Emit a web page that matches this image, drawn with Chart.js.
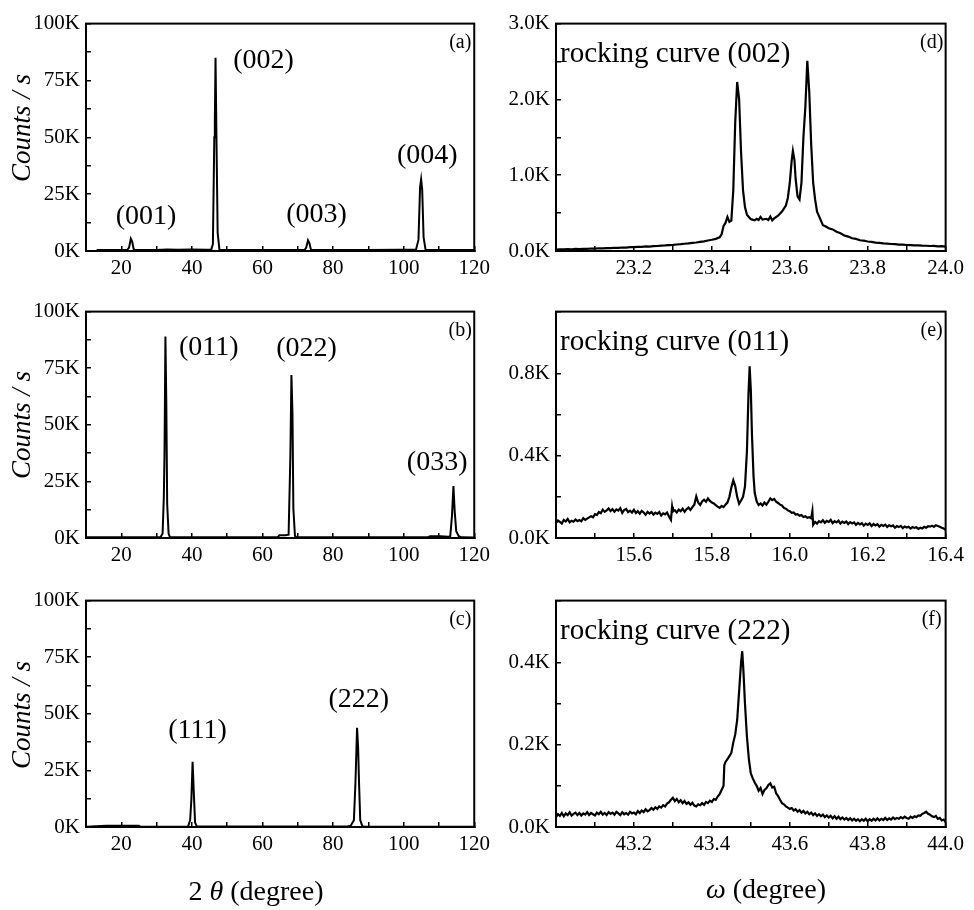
<!DOCTYPE html>
<html>
<head>
<meta charset="utf-8">
<script src="https://cdn.jsdelivr.net/npm/chart.js@4.4.1/dist/chart.umd.min.js"></script>
<style>
  html, body { margin: 0; padding: 0; background: #fff; }
  #fig { position: relative; width: 974px; height: 910px; background: #fff; overflow: hidden; }
  #fig canvas { position: absolute; }
</style>
</head>
<body>
<div id="fig">
  <canvas id="pa" width="500" height="291" style="left:0px;top:0px"></canvas>
  <canvas id="pb" width="500" height="290" style="left:0px;top:288px"></canvas>
  <canvas id="pc" width="500" height="333" style="left:0px;top:577px"></canvas>
  <canvas id="pd" width="484" height="291" style="left:490px;top:0px"></canvas>
  <canvas id="pe" width="484" height="290" style="left:490px;top:288px"></canvas>
  <canvas id="pf" width="484" height="333" style="left:490px;top:577px"></canvas>
</div>
<script>
// ---- 2θ scans, counts in K (thousands of counts / s) ----
const scanA = [[13,0.4],[20,0.4],[21.7,0.5],[22.2,1.5],[22.7,5.4],[23.1,4.0],[23.5,0.8],[23.9,0.4],[30,0.4],[33,0.7],[36,0.5],[40,0.7],[44,0.6],[45.5,0.7],[45.95,3],[46.35,50],[46.5,57],[46.7,85],[47.0,45],[47.3,8],[47.8,0.6],[50,0.4],[60,0.4],[71.9,0.4],[72.4,1.5],[72.9,4.7],[73.3,3.5],[73.7,0.7],[74.1,0.4],[90,0.4],[99,0.5],[103.5,0.6],[104.2,5],[104.65,28],[104.95,31.5],[105.25,27],[105.65,6],[106.2,0.6],[110,0.4],[120,0.4]];
const scanB = [[10,0.3],[31.1,0.3],[31.7,2],[32.05,18],[32.25,38],[32.5,89],[32.75,60],[33.0,15],[33.4,2],[33.8,0.3],[64.3,0.3],[64.8,1.2],[66.5,1.2],[67.4,1.5],[67.9,36],[68.2,72],[68.5,55],[68.75,13],[69.2,1],[69.6,0.3],[106.8,0.3],[107.5,0.8],[110.5,0.8],[112.5,0.5],[113.2,0.8],[113.7,10],[114.1,23],[114.45,12],[114.9,3],[115.6,0.8],[116.5,0.3],[120,0.2]];
const scanC = [[10,0.1],[15.7,0.5],[25,0.5],[25.5,0.1],[38.9,0.2],[39.5,3],[39.85,12],[40.2,28.8],[40.55,15],[40.9,2],[41.4,0.2],[84,0.2],[85,0.6],[85.9,3],[86.35,20],[86.8,43.8],[87.1,35],[87.35,20],[87.7,3],[88.3,0.4],[89,0.1],[120,0.1]];

// ---- ω rocking curves, counts in K ----
const rockD = [[23.00,0.020],[23.01,0.022],[23.02,0.021],[23.03,0.025],[23.04,0.023],[23.05,0.027],[23.06,0.026],[23.07,0.030],[23.08,0.029],[23.09,0.033],[23.10,0.032],[23.11,0.036],[23.12,0.034],[23.13,0.039],[23.14,0.038],[23.15,0.043],[23.16,0.042],[23.17,0.046],[23.18,0.045],[23.19,0.050],[23.20,0.051],[23.21,0.055],[23.22,0.054],[23.23,0.060],[23.24,0.059],[23.25,0.065],[23.26,0.066],[23.27,0.071],[23.28,0.073],[23.29,0.078],[23.30,0.080],[23.31,0.086],[23.32,0.090],[23.33,0.096],[23.34,0.100],[23.35,0.107],[23.36,0.112],[23.37,0.120],[23.38,0.128],[23.39,0.138],[23.40,0.148],[23.41,0.160],[23.42,0.180],[23.425,0.220],[23.43,0.330],[23.435,0.370],[23.44,0.450],[23.445,0.385],[23.45,0.400],[23.455,0.800],[23.46,1.700],[23.465,2.230],[23.47,2.000],[23.475,1.300],[23.48,0.800],[23.485,0.580],[23.49,0.480],[23.50,0.420],[23.51,0.405],[23.515,0.425],[23.52,0.410],[23.525,0.450],[23.53,0.415],[23.54,0.425],[23.545,0.410],[23.55,0.455],[23.555,0.405],[23.56,0.430],[23.57,0.465],[23.58,0.520],[23.59,0.600],[23.595,0.700],[23.60,0.900],[23.605,1.200],[23.608,1.320],[23.612,1.200],[23.615,0.950],[23.62,0.720],[23.625,0.680],[23.63,0.900],[23.635,1.500],[23.64,1.900],[23.645,2.510],[23.65,2.100],[23.655,1.400],[23.66,0.900],[23.665,0.680],[23.67,0.520],[23.68,0.400],[23.685,0.340],[23.69,0.330],[23.70,0.300],[23.71,0.285],[23.72,0.255],[23.73,0.235],[23.74,0.205],[23.75,0.190],[23.76,0.168],[23.77,0.160],[23.78,0.142],[23.79,0.136],[23.80,0.125],[23.81,0.120],[23.82,0.110],[23.83,0.108],[23.84,0.100],[23.85,0.097],[23.86,0.092],[23.87,0.090],[23.88,0.085],[23.89,0.084],[23.90,0.079],[23.91,0.078],[23.92,0.074],[23.93,0.075],[23.94,0.070],[23.95,0.069],[23.96,0.066],[23.97,0.067],[23.98,0.062],[23.99,0.063],[24.00,0.058]];
const rockE = [[15.400,0.072],[15.405,0.085],[15.410,0.078],[15.415,0.070],[15.420,0.088],[15.425,0.080],[15.430,0.092],[15.435,0.076],[15.440,0.084],[15.445,0.079],[15.450,0.090],[15.455,0.082],[15.460,0.087],[15.465,0.081],[15.470,0.096],[15.475,0.088],[15.480,0.094],[15.485,0.100],[15.490,0.106],[15.495,0.101],[15.500,0.116],[15.505,0.112],[15.510,0.126],[15.515,0.120],[15.520,0.138],[15.525,0.127],[15.530,0.134],[15.535,0.144],[15.540,0.131],[15.545,0.140],[15.550,0.128],[15.555,0.139],[15.560,0.133],[15.565,0.145],[15.570,0.122],[15.575,0.136],[15.580,0.141],[15.585,0.126],[15.590,0.133],[15.595,0.124],[15.600,0.137],[15.605,0.121],[15.610,0.130],[15.615,0.118],[15.620,0.132],[15.625,0.124],[15.630,0.113],[15.635,0.127],[15.640,0.119],[15.645,0.126],[15.650,0.114],[15.655,0.123],[15.660,0.117],[15.665,0.126],[15.670,0.109],[15.675,0.120],[15.680,0.115],[15.685,0.124],[15.690,0.104],[15.695,0.088],[15.698,0.152],[15.700,0.128],[15.705,0.135],[15.710,0.124],[15.715,0.138],[15.720,0.130],[15.725,0.142],[15.730,0.127],[15.735,0.140],[15.740,0.148],[15.745,0.136],[15.750,0.150],[15.755,0.162],[15.760,0.202],[15.765,0.172],[15.770,0.160],[15.775,0.178],[15.780,0.186],[15.785,0.176],[15.790,0.192],[15.795,0.180],[15.800,0.172],[15.805,0.168],[15.810,0.160],[15.815,0.152],[15.820,0.146],[15.825,0.156],[15.830,0.150],[15.835,0.162],[15.840,0.172],[15.845,0.200],[15.850,0.245],[15.855,0.280],[15.860,0.252],[15.865,0.200],[15.870,0.166],[15.875,0.182],[15.880,0.200],[15.885,0.250],[15.890,0.420],[15.894,0.700],[15.897,0.834],[15.900,0.720],[15.903,0.500],[15.907,0.300],[15.910,0.220],[15.915,0.178],[15.920,0.160],[15.925,0.168],[15.930,0.158],[15.935,0.172],[15.940,0.162],[15.945,0.176],[15.950,0.192],[15.955,0.184],[15.960,0.190],[15.965,0.176],[15.970,0.170],[15.975,0.162],[15.980,0.158],[15.985,0.146],[15.990,0.142],[15.995,0.134],[16.000,0.130],[16.005,0.122],[16.010,0.124],[16.015,0.114],[16.020,0.116],[16.025,0.108],[16.030,0.112],[16.035,0.102],[16.040,0.106],[16.045,0.098],[16.050,0.101],[16.055,0.096],[16.058,0.130],[16.060,0.064],[16.065,0.078],[16.070,0.070],[16.075,0.082],[16.080,0.076],[16.085,0.086],[16.090,0.074],[16.095,0.083],[16.100,0.078],[16.105,0.088],[16.110,0.072],[16.115,0.082],[16.120,0.076],[16.125,0.084],[16.130,0.070],[16.135,0.079],[16.140,0.073],[16.145,0.080],[16.150,0.068],[16.155,0.077],[16.160,0.071],[16.165,0.076],[16.170,0.064],[16.175,0.073],[16.180,0.066],[16.185,0.072],[16.190,0.060],[16.195,0.070],[16.200,0.064],[16.205,0.071],[16.210,0.058],[16.215,0.068],[16.220,0.061],[16.225,0.067],[16.230,0.055],[16.235,0.064],[16.240,0.059],[16.245,0.065],[16.250,0.054],[16.255,0.062],[16.260,0.057],[16.265,0.061],[16.270,0.050],[16.275,0.058],[16.280,0.053],[16.285,0.059],[16.290,0.048],[16.295,0.056],[16.300,0.051],[16.305,0.055],[16.310,0.046],[16.315,0.053],[16.320,0.049],[16.325,0.052],[16.330,0.044],[16.335,0.050],[16.340,0.046],[16.345,0.054],[16.350,0.050],[16.355,0.057],[16.360,0.055],[16.365,0.060],[16.370,0.054],[16.375,0.062],[16.380,0.058],[16.385,0.055],[16.390,0.050],[16.395,0.046],[16.400,0.040]];
const rockF = [[43.000,0.024],[43.005,0.031],[43.010,0.027],[43.015,0.034],[43.020,0.026],[43.025,0.033],[43.030,0.029],[43.035,0.036],[43.040,0.028],[43.045,0.032],[43.050,0.035],[43.055,0.029],[43.060,0.034],[43.065,0.028],[43.070,0.033],[43.075,0.030],[43.080,0.036],[43.085,0.029],[43.090,0.034],[43.095,0.031],[43.100,0.028],[43.105,0.035],[43.110,0.031],[43.115,0.037],[43.120,0.030],[43.125,0.034],[43.130,0.029],[43.135,0.036],[43.140,0.032],[43.145,0.035],[43.150,0.030],[43.155,0.037],[43.160,0.033],[43.165,0.029],[43.170,0.036],[43.175,0.031],[43.180,0.034],[43.185,0.030],[43.190,0.037],[43.195,0.033],[43.200,0.035],[43.205,0.031],[43.210,0.039],[43.215,0.034],[43.220,0.040],[43.225,0.036],[43.230,0.043],[43.235,0.038],[43.240,0.041],[43.245,0.046],[43.250,0.042],[43.255,0.048],[43.260,0.044],[43.265,0.050],[43.270,0.047],[43.275,0.053],[43.280,0.050],[43.285,0.057],[43.290,0.060],[43.295,0.066],[43.300,0.071],[43.305,0.063],[43.310,0.068],[43.315,0.060],[43.320,0.065],[43.325,0.058],[43.330,0.063],[43.335,0.056],[43.340,0.060],[43.345,0.054],[43.350,0.059],[43.355,0.052],[43.360,0.050],[43.365,0.055],[43.370,0.053],[43.375,0.058],[43.380,0.054],[43.385,0.061],[43.390,0.058],[43.395,0.064],[43.400,0.061],[43.405,0.068],[43.410,0.066],[43.415,0.074],[43.420,0.080],[43.425,0.090],[43.430,0.100],[43.432,0.150],[43.435,0.158],[43.440,0.165],[43.445,0.172],[43.450,0.180],[43.455,0.205],[43.460,0.225],[43.465,0.260],[43.470,0.330],[43.475,0.400],[43.478,0.427],[43.481,0.380],[43.485,0.300],[43.490,0.220],[43.495,0.165],[43.500,0.130],[43.505,0.118],[43.510,0.108],[43.515,0.100],[43.520,0.088],[43.525,0.095],[43.530,0.080],[43.535,0.090],[43.540,0.094],[43.545,0.102],[43.550,0.106],[43.555,0.096],[43.560,0.098],[43.565,0.082],[43.570,0.075],[43.575,0.066],[43.580,0.058],[43.585,0.055],[43.590,0.050],[43.595,0.047],[43.600,0.044],[43.605,0.046],[43.610,0.040],[43.615,0.043],[43.620,0.037],[43.625,0.041],[43.630,0.035],[43.635,0.039],[43.640,0.033],[43.645,0.037],[43.650,0.031],[43.655,0.035],[43.660,0.029],[43.665,0.033],[43.670,0.027],[43.675,0.031],[43.680,0.026],[43.685,0.030],[43.690,0.024],[43.695,0.028],[43.700,0.023],[43.705,0.027],[43.710,0.021],[43.715,0.026],[43.720,0.020],[43.725,0.025],[43.730,0.019],[43.735,0.023],[43.740,0.018],[43.745,0.022],[43.750,0.017],[43.755,0.021],[43.760,0.016],[43.765,0.020],[43.770,0.015],[43.775,0.019],[43.780,0.014],[43.785,0.019],[43.790,0.015],[43.795,0.020],[43.800,0.014],[43.805,0.019],[43.810,0.015],[43.815,0.020],[43.820,0.016],[43.825,0.021],[43.830,0.016],[43.835,0.020],[43.840,0.017],[43.845,0.022],[43.850,0.017],[43.855,0.021],[43.860,0.018],[43.865,0.023],[43.870,0.019],[43.875,0.022],[43.880,0.020],[43.885,0.024],[43.890,0.021],[43.895,0.025],[43.900,0.022],[43.905,0.020],[43.910,0.025],[43.915,0.022],[43.920,0.026],[43.925,0.024],[43.930,0.028],[43.935,0.027],[43.940,0.032],[43.945,0.034],[43.950,0.037],[43.955,0.032],[43.960,0.030],[43.965,0.026],[43.970,0.024],[43.975,0.027],[43.980,0.020],[43.985,0.022],[43.990,0.016],[43.995,0.018],[44.000,0.012]];

// ---- peak labels (position in data units: 2θ, K) ----
const peaksA = [['(001)',27.0,15.3],['(002)',60.3,83.8],['(003)',75.3,16.0],['(004)',106.7,42.1]];
const peaksB = [['(011)',44.8,84.3],['(022)',72.5,83.5],['(033)',109.5,33.2]];
const peaksC = [['(111)',41.6,42.7],['(222)',87.3,56.2]];

const SERIF = '"Liberation Serif", "DejaVu Serif", serif';
const TICK_FONT = { family: SERIF, size: 21 };

// text drawn on top of each panel: peak labels, panel letters, axis titles
const panelText = {
  id: 'panelText',
  afterDraw(chart, args, opts) {
    const ctx = chart.ctx, a = chart.chartArea;
    ctx.save();
    // closed frame around the plot area
    ctx.strokeStyle = '#000';
    ctx.lineWidth = 2;
    ctx.strokeRect(a.left, a.top, a.right - a.left, a.bottom - a.top);
    ctx.fillStyle = '#000';
    for (const it of (opts.items || [])) {
      let px, py;
      if (it.ref === 'data') {
        px = chart.scales.x.getPixelForValue(it.x);
        py = chart.scales.y.getPixelForValue(it.y);
      } else if (it.ref === 'tl') { px = a.left + it.x; py = a.top + it.y; }
      else if (it.ref === 'tr') { px = a.right + it.x; py = a.top + it.y; }
      else { px = it.x; py = it.y; }
      const runs = it.runs || [[it.text, it.font]];
      ctx.save();
      ctx.translate(px, py);
      if (it.rotate) ctx.rotate(it.rotate);
      ctx.textBaseline = it.baseline || 'middle';
      ctx.textAlign = 'left';
      let total = 0;
      for (const r of runs) { ctx.font = r[1]; total += ctx.measureText(r[0]).width; }
      let cx = it.align === 'left' ? 0 : -total / 2;
      for (const r of runs) {
        ctx.font = r[1];
        ctx.fillText(r[0], cx, 0);
        cx += ctx.measureText(r[0]).width;
      }
      ctx.restore();
    }
    ctx.restore();
  }
};

function axisCommon() {
  return {
    type: 'linear',
    border: { display: true, color: '#000', width: 2 },
    grid: { drawOnChartArea: false, drawTicks: true, tickLength: -5, color: '#000', lineWidth: 1.5 }
  };
}

function makePanel(id, cfg) {
  const xAxis = Object.assign(axisCommon(), {
    min: cfg.xMin, max: cfg.xMax,
    afterFit: s => { s.height = 36; },
    ticks: {
      stepSize: cfg.xStep, autoSkip: false, maxRotation: 0, minRotation: 0,
      color: '#000', font: TICK_FONT, padding: 10,
      callback: cfg.xLabel
    }
  });
  const yAxis = Object.assign(axisCommon(), {
    min: 0, max: cfg.yMax,
    afterFit: s => { s.width = cfg.yWidth; },
    ticks: {
      stepSize: cfg.yStep, autoSkip: false, color: '#000', font: TICK_FONT, padding: 11,
      callback: cfg.yLabel
    }
  });
  return new Chart(document.getElementById(id), {
    type: 'line',
    data: {
      datasets: [{
        data: cfg.series.map(p => ({ x: p[0], y: p[1] })),
        borderColor: '#000', borderWidth: cfg.lineWidth || 2, pointRadius: 0, tension: 0, fill: false
      }]
    },
    options: {
      responsive: false, animation: false, devicePixelRatio: 1,
      layout: { padding: { left: 0, top: 15, right: cfg.padRight, bottom: cfg.padBottom } },
      scales: { x: xAxis, y: yAxis },
      plugins: { legend: { display: false }, tooltip: { enabled: false }, panelText: { items: cfg.items } }
    },
    plugins: [panelText]
  });
}

const LABEL_FONT = '28px ' + SERIF;
const ROCK_FONT = '29px ' + SERIF;
const LETTER_FONT = '20px ' + SERIF;
const TITLE_FONT = '28px ' + SERIF;
const TITLE_ITALIC = 'italic 28px ' + SERIF;

const twoThetaLabel = v => (Math.round(v) % 20 === 0 ? String(Math.round(v)) : '');
const countsLabel = v => (Math.round(v * 10) % 250 === 0 ? Math.round(v) + 'K' : '');
const omegaLabel = (min) => (v => {
  const t = Math.round(v * 10);
  return (t % 2 === 0 && t !== Math.round(min * 10)) ? (t / 10).toFixed(1) : '';
});

function peakItems(list) {
  return list.map(p => ({ ref: 'data', text: p[0], x: p[1], y: p[2], font: LABEL_FONT }));
}
function countsTitle(y) {
  return { ref: 'canvas', x: 23, y: y, rotate: -Math.PI / 2, text: 'Counts / s', font: 'italic 27px ' + SERIF };
}
function letter(t) { return { ref: 'tr', x: -14, y: 19.5, text: t, font: LETTER_FONT }; }
function rocking(t) { return { ref: 'tl', x: 4, y: 38, text: t, font: ROCK_FONT, align: 'left', baseline: 'alphabetic' }; }

const left = { xMin: 10, xMax: 120, xStep: 10, xLabel: twoThetaLabel, yMax: 100, yStep: 12.5, yLabel: countsLabel, yWidth: 86, padRight: 17 };

makePanel('pa', Object.assign({}, left, { series: scanA, padBottom: 4,
  items: [...peakItems(peaksA), letter('(a)'), countsTitle(128)] }));
makePanel('pb', Object.assign({}, left, { series: scanB, padBottom: 4,
  items: [...peakItems(peaksB), letter('(b)'), countsTitle(137)] }));
makePanel('pc', Object.assign({}, left, { series: scanC, padBottom: 47,
  items: [...peakItems(peaksC), letter('(c)'), countsTitle(138),
    { ref: 'canvas', x: 256, y: 316, runs: [['2 ', TITLE_FONT], ['θ', TITLE_ITALIC], [' (degree)', TITLE_FONT]] }] }));

const right = { xStep: 0.1, yWidth: 66, padRight: 22, lineWidth: 2.2 };

makePanel('pd', Object.assign({}, right, { series: rockD, xMin: 23, xMax: 24, xLabel: omegaLabel(23),
  yMax: 3, yStep: 0.5, yLabel: v => (Math.round(v * 10) % 10 === 0 ? v.toFixed(1) + 'K' : ''), padBottom: 4,
  items: [rocking('rocking curve (002)'), letter('(d)')] }));
makePanel('pe', Object.assign({}, right, { series: rockE, xMin: 15.4, xMax: 16.4, xLabel: omegaLabel(15.4),
  yMax: 1.1, yStep: 0.2, yLabel: v => (Math.round(v * 10) % 4 === 0 ? v.toFixed(1) + 'K' : ''), padBottom: 4,
  items: [rocking('rocking curve (011)'), letter('(e)')] }));
makePanel('pf', Object.assign({}, right, { series: rockF, xMin: 43, xMax: 44, xLabel: omegaLabel(43),
  yMax: 0.55, yStep: 0.1, yLabel: v => (Math.round(v * 10) % 2 === 0 && v < 0.5 ? v.toFixed(1) + 'K' : ''), padBottom: 47,
  items: [rocking('rocking curve (222)'), letter('(f)'),
    { ref: 'canvas', x: 276, y: 314, runs: [['ω', TITLE_ITALIC], [' (degree)', TITLE_FONT]] }] }));
</script>
</body>
</html>
